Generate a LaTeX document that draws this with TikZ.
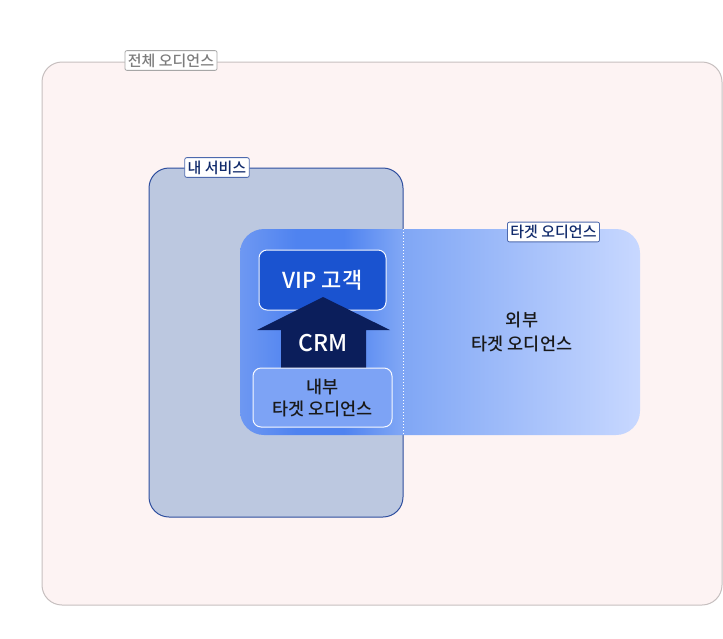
\documentclass[tikz,border=0pt]{standalone}
\usepackage{fontspec}
\setmainfont{Noto Sans CJK KR Medium}
\usepackage{xcolor}
\usetikzlibrary{positioning}
\definecolor{allfill}{HTML}{FDF3F3}
\definecolor{allline}{HTML}{C6BFBF}
\definecolor{alltext}{HTML}{7C7C7C}
\definecolor{svcfill}{HTML}{BCC8E0}
\definecolor{svcline}{HTML}{2E4E9E}
\definecolor{navy}{HTML}{102A6B}
\definecolor{tgtA}{HTML}{6E98F2}
\definecolor{tgtB}{HTML}{4F83F0}
\definecolor{tgtM}{HTML}{7FA6F5}
\definecolor{tgtC}{HTML}{C8D8FF}
\definecolor{vipfill}{HTML}{1A53D0}
\definecolor{arrowfill}{HTML}{0B1E5B}
\definecolor{innerfill}{HTML}{7DA3F5}
\pgfdeclarehorizontalshading{tgtshade}{100bp}{color(0bp)=(tgtA); color(25bp)=(tgtA); color(32bp)=(tgtB); color(38bp)=(tgtB); color(45bp)=(tgtM); color(75bp)=(tgtC); color(100bp)=(tgtC)}

\begin{document}
\begin{tikzpicture}[x=1pt, y=-1pt,
    box/.style={rectangle, rounded corners=20pt, line width=1pt, inner sep=0pt},
    tag/.style={rectangle, draw, fill=white, rounded corners=2pt, line width=0.8pt, inner sep=3pt, font=\fontsize{15}{17}\selectfont},
    big/.style={align=center, font=\fontsize{17.5}{24}\selectfont, text=black!90}]
    \useasboundingbox (0,0) rectangle (723,638);

    \node[box, draw=allline, fill=allfill, minimum width=680pt, minimum height=543pt] (all) at (382,333.5) {};
    \node[box, draw=svcline, fill=svcfill, minimum width=254pt, minimum height=349pt] (svc) at (276,342.5) {};
    \node[box, rounded corners=24pt, shading=tgtshade, minimum width=400pt, minimum height=206pt] (tgt) at (440,332) {};
    \draw[white, dotted, line width=1pt] (403,229) coordinate (cut top) -- (403,435) coordinate (cut bot);

    \node[box, rounded corners=8pt, draw=white!80!tgtC, fill=vipfill, minimum width=127pt, minimum height=60pt,
          text=white, font=\fontsize{22}{24}\selectfont] (vip) at (322.5,280) {VIP 고객};
    \fill[arrowfill] (323,297) -- (390,330) -- (366,330) -- (366,370) -- (281,370) -- (281,330) -- (257,330) -- cycle;
    \node[text=white, font=\fontsize{23}{24}\selectfont] (crm) at (323,343) {CRM};
    \node[box, rounded corners=8pt, draw=white!85!tgtC, fill=innerfill, minimum width=139pt, minimum height=59pt, big,
          font=\fontsize{17.5}{22}\selectfont] (inner) at (322.5,397.5) {내부\\타겟 오디언스};
    \node[big] (outer) at (522,332) {외부\\타겟 오디언스};

    \node[tag, draw=black!35, text=alltext] (all tag) at (171,60.5) {전체 오디언스};
    \node[tag, draw=svcline!85, text=navy] (svc tag) at (217,167.5) {내 서비스};
    \node[tag, draw=svcline!85, text=navy] (tgt tag) at (553.5,232) {타겟 오디언스};
\end{tikzpicture}
\end{document}
